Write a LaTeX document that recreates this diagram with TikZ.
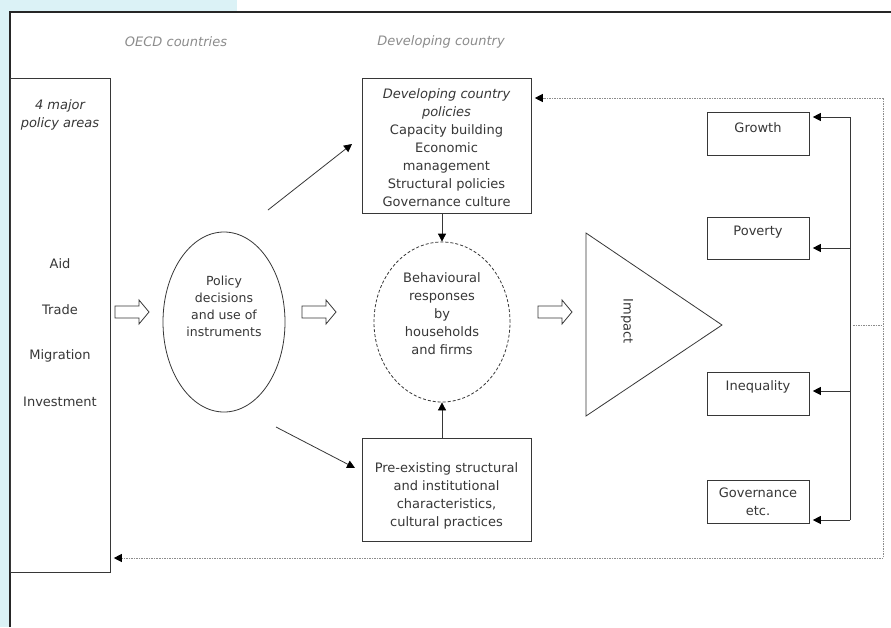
\documentclass[tikz,border=0pt]{standalone}
\usepackage{fontspec}
\setmainfont{DejaVu Sans}
\usetikzlibrary{arrows.meta,shapes.geometric,calc}
\definecolor{bgblue}{RGB}{219,242,246}
\definecolor{txt}{RGB}{55,55,55}
\definecolor{hdr}{RGB}{140,140,140}
\definecolor{ln}{RGB}{55,55,55}
\begin{document}
\begin{tikzpicture}[x=1pt,y=-1pt,
  every node/.style={text=txt, font=\fontsize{13}{18}\selectfont, inner sep=0pt, align=center},
  box/.style={draw=ln, line width=0.8pt, anchor=north west},
  arr/.style={draw=ln, line width=0.8pt, -{Triangle[length=8pt,width=8pt,color=black]}},
  fb/.style={draw=hdr, line width=0.9pt, dash pattern=on 1.5pt off 1pt},
  fbarr/.style={fb, -{Triangle[length=8pt,width=8pt,color=black]}},
  hdrtext/.style={text=hdr, font=\fontsize{13}{16}\selectfont\itshape},
  pics/harrow/.style={code={\draw[ln, line width=0.8pt, fill=white] (0,-6) -- (24,-6) -- (24,-12) -- (34,0) -- (24,12) -- (24,6) -- (0,6) -- cycle;}}
]
\useasboundingbox (0,0) rectangle (891,627);
\fill[white] (0,0) rectangle (891,627);
\fill[bgblue] (0,0) rectangle (10,627);
\fill[bgblue] (0,0) rectangle (237,12);
\draw[black!85, line width=1.5pt] (10,627) -- (10,12) -- (891,12);

% headings
\node[hdrtext] (oecd) at (176,42) {OECD countries};
\node[hdrtext] (dev) at (441,42) {Developing country};

% left column
\node[box, minimum width=100pt, minimum height=494pt] (areas) at (10,78) {};
\node[font=\fontsize{13}{18}\selectfont\itshape] (major) at (60,115) {4 major\\policy areas};
\node (aid) at (60,264) {Aid};
\node (trade) at (60,310) {Trade};
\node (migr) at (60,356) {Migration};
\node (inv) at (60,402) {Investment};

% hollow arrows
\path (115,312) pic {harrow};
\path (302,312) pic {harrow};
\path (538,312) pic {harrow};

% policy ellipse
\node[ellipse, draw=ln, line width=0.8pt, minimum width=122pt, minimum height=180pt] (pol) at (224,322) {};
\node[font=\fontsize{12.5}{17}\selectfont] (poltext) at (224,306) {Policy\\decisions\\and use of\\instruments};

% developing country policies
\node[box, minimum width=169pt, minimum height=135pt] (dcp) at (362,78) {};
\node (dcptext) at (446.5,147.5) {\itshape Developing country\\\itshape policies\\Capacity building\\Economic\\management\\Structural policies\\Governance culture};

% behavioural responses
\node[ellipse, draw=ln, line width=0.8pt, dash pattern=on 3pt off 2pt, minimum width=136pt, minimum height=160pt] (beh) at (442,322) {};
\node (behtext) at (442,314) {Behavioural\\responses\\by\\households\\and firms};

% pre-existing
\node[box, minimum width=169pt, minimum height=103pt] (pre) at (362,438) {};
\node (pretext) at (446.5,496) {Pre-existing structural\\and institutional\\characteristics,\\cultural practices};

% impact triangle
\draw[ln, line width=0.8pt] (586,233) coordinate (t1) -- (586,416) coordinate (t2) -- (722,325) coordinate (t3) -- cycle;
\node[rotate=-90] (impact) at (627,321) {Impact};

% outcome boxes
\node[box, minimum width=102pt, minimum height=43pt] (growth) at (707,112) {};
\node (growtht) at (758,128) {Growth};
\node[box, minimum width=102pt, minimum height=42pt] (pov) at (707,217) {};
\node (povt) at (758,232) {Poverty};
\node[box, minimum width=102pt, minimum height=43pt] (ineq) at (707,372) {};
\node (ineqt) at (758,387) {Inequality};
\node[box, minimum width=102pt, minimum height=43pt] (gov) at (707,480) {};
\node (govt) at (758,502) {Governance\\etc.};

% diagonal arrows
\coordinate (d1s) at (268,210);
\coordinate (d1e) at (352,144);
\coordinate (d2s) at (276,427);
\coordinate (d2e) at (355,468);
\draw[arr] (d1s) -- (d1e);
\draw[arr] (d2s) -- (d2e);

% vertical arrows into behaviour
\draw[arr] (dcp.south -| beh.north) -- (beh.north);
\draw[arr] (pre.north -| beh.south) -- (beh.south);

% right distribution line
\coordinate (vtop) at (850,117);
\coordinate (vp) at (850,248);
\coordinate (vi) at (850,391);
\coordinate (vbot) at (850,520);
\draw[ln, line width=0.8pt] (vtop) -- (vbot);
\draw[arr, shorten >=3pt] (vtop) -- (growth.east |- vtop);
\draw[arr, shorten >=3pt] (vp) -- (pov.east |- vp);
\draw[arr, shorten >=3pt] (vi) -- (ineq.east |- vi);
\draw[arr, shorten >=3pt] (vbot) -- (gov.east |- vbot);

% feedback dotted lines
\coordinate (fbt) at (883,98);
\coordinate (fbb) at (883,558);
\coordinate (fbm) at (883,325);
\coordinate (fbs) at (853,325);
\draw[fb] (fbt) -- (fbb);
\draw[fb] (fbs) -- (fbm);
\draw[fbarr, shorten >=3pt] (fbt) -- (dcp.east |- fbt);
\draw[fbarr, shorten >=3pt] (fbb) -- (areas.east |- fbb);
\end{tikzpicture}
\end{document}
